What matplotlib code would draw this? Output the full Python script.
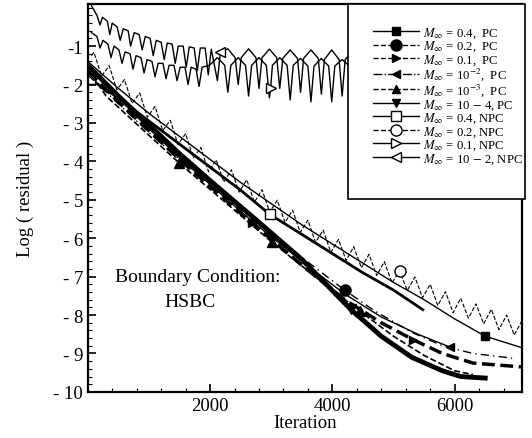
import numpy as np
import matplotlib
matplotlib.use("Agg")
import matplotlib.pyplot as plt
from matplotlib.lines import Line2D
from matplotlib.patches import Rectangle
from matplotlib.ticker import MultipleLocator

plt.rcParams['font.family'] = ['Liberation Serif', 'DejaVu Serif']
plt.rcParams['mathtext.fontset'] = 'stix'

# ---- data (iteration, log residual) ----
# NPC, M = 10^-2 (upper oscillating curve)
npc_m2_x = [60, 150, 200, 240, 320, 360, 400, 480, 530, 580, 660, 700, 760, 840, 890, 940,
            1020, 1070, 1120, 1200, 1250, 1300, 1380, 1430, 1480, 1560, 1610, 1660, 1740,
            1790, 1840, 1920, 1970, 2020,
            2120, 2170, 2290, 2410, 2460, 2510, 2630, 2750, 2800, 2850, 2970, 3090,
            3140, 3190, 3310, 3430, 3480, 3530, 3650, 3770, 3820, 3870, 3990, 4110,
            4160, 4210, 4330, 4450, 4500]
npc_m2_y = [0.05, -0.2, -0.45, -0.25, -0.35, -0.7, -0.4, -0.5, -0.85, -0.55, -0.6, -1.0, -0.65,
            -0.7, -1.1, -0.75, -0.8, -1.25, -0.85, -0.9, -1.35, -0.92, -0.95, -1.45, -1.0,
            -1.0, -1.55, -1.02, -1.05, -1.65, -1.05, -1.05, -1.75, -1.08,
            -1.9, -1.15, -1.07, -1.3, -2.0, -1.3, -1.07, -1.3, -2.1, -1.3, -1.08, -1.3,
            -2.1, -1.32, -1.1, -1.32, -2.2, -1.32, -1.1, -1.32, -2.25, -1.35, -1.1, -1.35,
            -2.3, -1.35, -1.12, -1.35, -2.3]

# NPC, M = 0.1 (lower oscillating curve)
npc_01_x = [60, 150, 200, 250, 330, 380, 430, 510, 560, 610, 690, 740, 790, 870, 920, 970,
            1050, 1100, 1150, 1230, 1280, 1330, 1410, 1460, 1510, 1590, 1640, 1690, 1770,
            1820, 1870, 1990, 2120, 2240, 2290, 2340, 2460, 2580, 2630, 2680, 2800, 2920,
            2970, 2990, 3020, 3140, 3260, 3310, 3360, 3480, 3600, 3650, 3700, 3820, 3940,
            3990, 4040, 4160, 4280, 4330, 4380, 4500]
npc_01_y = [-0.65, -0.75, -1.05, -0.85, -0.95, -1.3, -1.0, -1.1, -1.45, -1.15, -1.2, -1.6,
            -1.25, -1.3, -1.7, -1.35, -1.4, -1.8, -1.45, -1.45, -1.85, -1.5, -1.5, -1.9,
            -1.55, -1.55, -2.0, -1.55, -1.6, -2.05, -1.55, -1.5, -1.3, -1.5, -2.2, -1.5,
            -1.3, -1.5, -2.3, -1.5, -1.3, -1.5, -2.35, -2.1, -1.5, -1.3, -1.5, -2.4, -1.5,
            -1.32, -1.52, -2.45, -1.52, -1.32, -1.52, -2.45, -1.52, -1.35, -1.52, -2.5,
            -1.52, -1.35]

# NPC, M = 0.2 (noisy converging curve)
npc_02_x = [60, 100, 225, 350, 475, 600, 725, 850, 975, 1100, 1225, 1350, 1475, 1600, 1725,
            1850, 1975, 2100, 2225, 2350, 2475, 2600, 2725, 2850, 2975, 3100, 3225, 3350,
            3475, 3600, 3725, 3850, 3975, 4100, 4225, 4350, 4475, 4600, 4725, 4850, 4975,
            5100, 5225, 5350, 5475, 5600, 5725, 5850, 5975, 6100, 6225, 6350, 6475, 6600,
            6725, 6850, 6975, 7100]
npc_02_y = [-1.25, -1.16, -1.78, -1.51, -2.14, -1.87, -2.49, -2.22, -2.85, -2.57, -3.20, -2.93,
            -3.56, -3.28, -3.91, -3.64, -4.27, -3.96, -4.54, -4.22, -4.80, -4.48, -5.06,
            -4.74, -5.32, -5.01, -5.59, -5.27, -5.85, -5.53, -6.11, -5.79, -6.37, -6.03,
            -6.58, -6.22, -6.77, -6.42, -6.97, -6.61, -7.16, -6.85, -7.36, -7.01, -7.55,
            -7.20, -7.75, -7.39, -7.94, -7.56, -8.08, -7.71, -8.23, -7.85, -8.38, -8.00,
            -8.52, -8.15]

# NPC, M = 0.4
npc_04_x = [30, 500, 1000, 1500, 2000, 2500, 2977, 3500, 4000, 4500, 5000, 5480]
npc_04_y = [-1.85, -2.35, -2.95, -3.55, -4.15, -4.75, -5.38, -5.9, -6.4, -6.9, -7.35, -7.86]

# PC curves
pc_04_x = [0, 500, 1000, 1500, 2000, 2500, 3000, 3500, 4000, 4500, 5000, 5500, 6000, 6500, 7100]
pc_04_y = [-1.4, -2.1, -2.75, -3.35, -3.95, -4.55, -5.1, -5.65, -6.15, -6.65, -7.15, -7.6,
           -8.1, -8.55, -8.85]

pc_02_x = [0, 500, 1000, 1500, 2000, 2680, 3500, 4200, 4700, 5300, 5800, 6300, 6940]
pc_02_y = [-1.75, -2.5, -3.25, -3.95, -4.6, -5.5, -6.5, -7.35, -7.9, -8.45, -8.8, -9.0, -9.12]

pc_01_x = [0, 500, 1000, 1500, 2000, 2680, 3500, 4200, 4800, 5320, 5800, 6300, 7100]
pc_01_y = [-1.65, -2.45, -3.2, -3.95, -4.65, -5.6, -6.7, -7.6, -8.2, -8.64, -9.0, -9.25, -9.35]

pc_m2_x = [0, 500, 1000, 1500, 2000, 2680, 3500, 4200, 4800, 5400, 5920]
pc_m2_y = [-1.55, -2.35, -3.15, -3.9, -4.6, -5.55, -6.6, -7.45, -8.05, -8.5, -8.83]

pc_m3_x = [0, 300, 1500, 3010, 3800, 4450, 5000, 5500, 6000, 6300]
pc_m3_y = [-1.6, -2.3, -4.05, -6.1, -7.1, -7.9, -8.55, -9.05, -9.45, -9.55]

pc_m4_x = [0, 500, 1000, 1500, 2000, 2700, 3500, 4300, 4800, 5300, 5800, 6100, 6500]
pc_m4_y = [-1.5, -2.3, -3.05, -3.8, -4.5, -5.45, -6.55, -7.85, -8.55, -9.1, -9.45, -9.6, -9.64]

labels = [r"$M_{\infty}$ = 0.4,  PC", r"$M_{\infty}$ = 0.2,  PC", r"$M_{\infty}$ = 0.1,  PC",
          r"$M_{\infty}$ = 10$^{-2}$,  PC", r"$M_{\infty}$ = 10$^{-3}$,  PC",
          r"$M_{\infty}$ = 10 $-$ 4, PC", r"$M_{\infty}$ = 0.4, NPC",
          r"$M_{\infty}$ = 0.2, NPC", r"$M_{\infty}$ = 0.1, NPC",
          r"$M_{\infty}$ = 10 $-$ 2, NPC"]

fig = plt.figure(figsize=(5.32, 4.39), dpi=100)
ax = fig.add_axes([0.165, 0.105, 0.816, 0.884])

k = 'black'
# upper oscillating curves
ax.plot(npc_m2_x, npc_m2_y, color=k, lw=1.0, marker='<', mfc='white', ms=7, markevery=[35])
ax.plot(npc_01_x, npc_01_y, color=k, lw=1.0, marker='>', mfc='white', ms=7, markevery=[43])

# converging curves
ax.plot(npc_02_x, npc_02_y, color=k, lw=0.8, ls='--', marker='o', mfc='white', ms=8,
        markevery=[41])
ax.plot(npc_04_x, npc_04_y, color=k, lw=2.0, marker='s', mfc='white', ms=7, markevery=[0, 6])
ax.plot(pc_04_x, pc_04_y, color=k, lw=1.0, marker='s', ms=6, markevery=[13])
ax.plot(pc_02_x, pc_02_y, color=k, lw=1.0, ls=(0, (6, 3, 1, 3)), marker='o', ms=8,
        markevery=[7])
ax.plot(pc_01_x, pc_01_y, color=k, lw=2.5, ls='--', marker='>', ms=6, markevery=[5, 9])
ax.plot(pc_m2_x, pc_m2_y, color=k, lw=1.0, marker='<', ms=6, markevery=[5, 10])
ax.plot(pc_m3_x, pc_m3_y, color=k, lw=1.2, ls='--', marker='^', ms=7, markevery=[2, 3, 5])
ax.plot(pc_m4_x, pc_m4_y, color=k, lw=3.5, marker='v', ms=7, markevery=[7])

ax.set_xlim(0, 7100)
ax.set_ylim(-10, 0.1)
ax.set_xticks([2000, 4000, 6000])
ax.xaxis.set_minor_locator(MultipleLocator(400))
yt = [-1, -2, -3, -4, -5, -6, -7, -8, -9, -10]
ax.set_yticks(yt)
ax.set_yticklabels(["-1"] + ["- %d" % (-v) for v in yt[1:]])
ax.yaxis.set_minor_locator(MultipleLocator(0.2))
ax.tick_params(which='both', direction='in', labelsize=13.5)
ax.tick_params(which='major', length=6, width=1.2)
ax.tick_params(which='minor', length=3, width=0.8)
for s in ax.spines.values():
    s.set_linewidth(1.6)

ax.set_xlabel("Iteration", fontsize=13.5, labelpad=0)
ax.set_ylabel("Log ( residual )", fontsize=13.5, labelpad=14)

ax.text(1800, -7.0, "Boundary Condition:", fontsize=14, ha='center', va='center')
ax.text(1670, -7.65, "HSBC", fontsize=14, ha='center', va='center')

# legend box
ax.add_patch(Rectangle((0.599, 0.497), 0.408, 0.503, transform=ax.transAxes,
                       facecolor='white', edgecolor='black', lw=1.2, zorder=4, clip_on=False))
handles = [
    Line2D([], [], color=k, lw=1.0, marker='s', ms=6),
    Line2D([], [], color=k, lw=1.0, ls='--', marker='o', ms=8),
    Line2D([], [], color=k, lw=1.0, ls='--', marker='>', ms=6),
    Line2D([], [], color=k, lw=1.0, ls='-.', marker='<', ms=6),
    Line2D([], [], color=k, lw=1.0, ls='--', marker='^', ms=6),
    Line2D([], [], color=k, lw=1.0, marker='v', ms=6),
    Line2D([], [], color=k, lw=1.0, marker='s', mfc='white', ms=7),
    Line2D([], [], color=k, lw=1.0, ls='--', marker='o', mfc='white', ms=8),
    Line2D([], [], color=k, lw=1.0, marker='>', mfc='white', ms=7),
    Line2D([], [], color=k, lw=1.0, marker='<', mfc='white', ms=7),
]
leg = ax.legend(handles, labels, loc='upper left', bbox_to_anchor=(0.645, 0.958),
                frameon=False, fontsize=9.2, handlelength=3.6, handletextpad=0.3,
                labelspacing=-0.08, numpoints=1, borderaxespad=0)
leg.set_zorder(5)

fig.savefig("out.png", dpi=100)
